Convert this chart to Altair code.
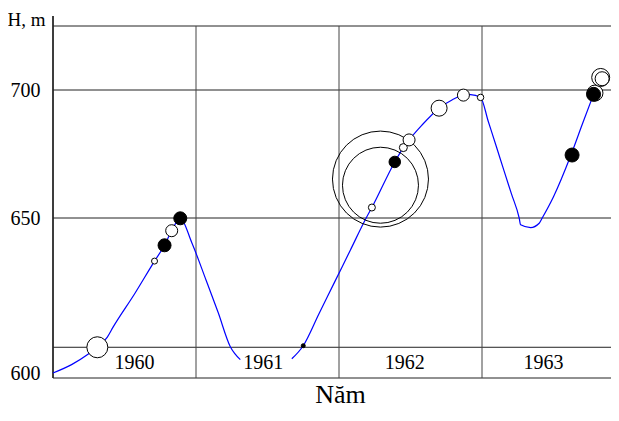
import altair as alt
import pandas as pd

# ---- data ----
seg1_x = [1960.00, 1960.13, 1960.25, 1960.31, 1960.38, 1960.42, 1960.57, 1960.71,
          1960.78, 1960.83, 1960.89, 1960.97, 1961.07, 1961.155, 1961.24, 1961.27, 1961.31]
seg1_h = [600.0, 602.7, 606.2, 608.3, 611.6, 614.8, 625.5, 636.1,
          641.2, 645.9, 649.9, 642.1, 630.0, 619.5, 608.5, 606.3, 604.3]
seg2_x = [1961.67, 1961.75, 1961.86, 1961.97, 1962.08, 1962.19, 1962.23, 1962.39, 1962.45,
          1962.49, 1962.58, 1962.70, 1962.79, 1962.87, 1962.92, 1962.99, 1963.044, 1963.098,
          1963.152, 1963.206, 1963.26, 1963.27, 1963.34, 1963.40, 1963.42, 1963.50, 1963.62,
          1963.70, 1963.78]
seg2_h = [604.6, 608.8, 619.1, 629.4, 639.7, 650.0, 654.1, 671.9, 677.5,
          680.5, 686.3, 692.9, 696.1, 698.0, 698.2, 697.1, 687.7, 678.3,
          668.8, 659.4, 650.0, 647.8, 646.9, 648.3, 649.9, 658.3, 674.3,
          686.4, 698.3]

pt_x = [1960.31, 1960.71, 1960.78, 1960.83, 1960.89, 1961.75, 1962.23, 1962.39, 1962.45,
        1962.49, 1962.70, 1962.87, 1962.99, 1963.63, 1963.79, 1963.78, 1963.83, 1963.84]
pt_h = [608.3, 636.1, 641.2, 645.9, 649.9, 608.8, 654.1, 671.9, 677.5,
        680.5, 692.9, 698.0, 697.1, 674.6, 698.8, 698.3, 704.9, 704.4]
pt_size = [441, 36, 169, 144, 169, 16, 49, 132, 64,
           144, 256, 144, 42, 196, 256, 196, 324, 196]
pt_fill = ["white", "white", "black", "white", "black", "black", "white", "black", "white",
           "white", "white", "white", "white", "black", "white", "black", "white", "white"]

ring_x = [1962.29, 1962.29]
ring_h = [665.2, 662.8]
ring_size = [9216, 5776]

year_labels = ["1960", "1961", "1962", "1963"]
year_x = [1960.57, 1961.47, 1962.46, 1963.43]
year_h = 601.2

h_lines = [725, 700, 650, 608.3, 598.39]
v_lines = [1961, 1962, 1963]
y_ticks = [600, 650, 700]

# ---- chart ----
W, H = 558, 352
xs = alt.Scale(domain=[1960, 1960 + W / 143], nice=False, zero=False)
ys = alt.Scale(domain=[598.39, 650, 700, 725], range=[352, 192, 64, 0], nice=False, zero=False)

line_df = pd.DataFrame({
    "x": seg1_x + seg2_x,
    "h": seg1_h + seg2_h,
    "seg": ["a"] * len(seg1_x) + ["b"] * len(seg2_x),
})
pt_df = pd.DataFrame({"x": pt_x, "h": pt_h, "size": pt_size, "fill": pt_fill, "order": range(len(pt_x))})
ring_df = pd.DataFrame({"x": ring_x, "h": ring_h, "size": ring_size})
yr_df = pd.DataFrame({"x": year_x, "label": year_labels, "h": [year_h] * 4})
hl_df = pd.DataFrame({"h": h_lines})
vl_df = pd.DataFrame({"x": v_lines})

x_axis = alt.Axis(title="Năm", labels=False, ticks=False, domain=False, grid=False,
                  titleFont="Liberation Serif", titleFontSize=26, titleFontWeight="normal",
                  titleColor="black", titlePadding=3, titleX=287)
y_axis = alt.Axis(title="H, m", values=y_ticks, ticks=False, domain=False, grid=False,
                  labelFont="Liberation Serif", labelFontSize=20, labelColor="black",
                  labelPadding=13, titleAngle=0, titleX=-46, titleY=-1, titleAlign="left",
                  titleBaseline="alphabetic", titleFont="Liberation Serif", titleFontSize=19,
                  titleFontWeight="normal", titleColor="black")

hrules = alt.Chart(hl_df).mark_rule(color="#222", strokeWidth=1).encode(
    y=alt.Y("h:Q", scale=ys, axis=y_axis), x=alt.value(0), x2=alt.value(W))
vrules = alt.Chart(vl_df).mark_rule(color="#444", strokeWidth=1).encode(
    x=alt.X("x:Q", scale=xs, axis=x_axis), y=alt.value(0), y2=alt.value(H))
left_line = alt.Chart(vl_df).mark_rule(color="#222", strokeWidth=1).encode(
    x=alt.value(0), y=alt.value(-10), y2=alt.value(H))

line = alt.Chart(line_df).mark_line(color="#0000ff", strokeWidth=1.2, interpolate="monotone").encode(
    x=alt.X("x:Q", scale=xs), y=alt.Y("h:Q", scale=ys), detail="seg:N")

rings = alt.Chart(ring_df).mark_point(shape="circle", filled=False, color="black", strokeWidth=1, opacity=1).encode(
    x=alt.X("x:Q", scale=xs), y=alt.Y("h:Q", scale=ys), size=alt.Size("size:Q", scale=None))

points = alt.Chart(pt_df).mark_point(shape="circle", filled=True, stroke="black", strokeWidth=1, opacity=1).encode(
    x=alt.X("x:Q", scale=xs), y=alt.Y("h:Q", scale=ys), size=alt.Size("size:Q", scale=None),
    fill=alt.Fill("fill:N", scale=None), order="order:Q")

years = alt.Chart(yr_df).mark_text(font="Liberation Serif", fontSize=20, color="black",
                                   baseline="alphabetic", align="center").encode(
    x=alt.X("x:Q", scale=xs), y=alt.Y("h:Q", scale=ys), text="label:N")

chart = alt.layer(hrules, vrules, left_line, line, rings, points, years).properties(
    width=W, height=H,
    autosize=alt.AutoSizeParams(type="none"),
    padding={"left": 45, "top": 18, "right": 0, "bottom": 30},
    background="white",
).configure_view(stroke=None)

chart.save("out.html", embed_options={"renderer": "svg", "actions": False})
